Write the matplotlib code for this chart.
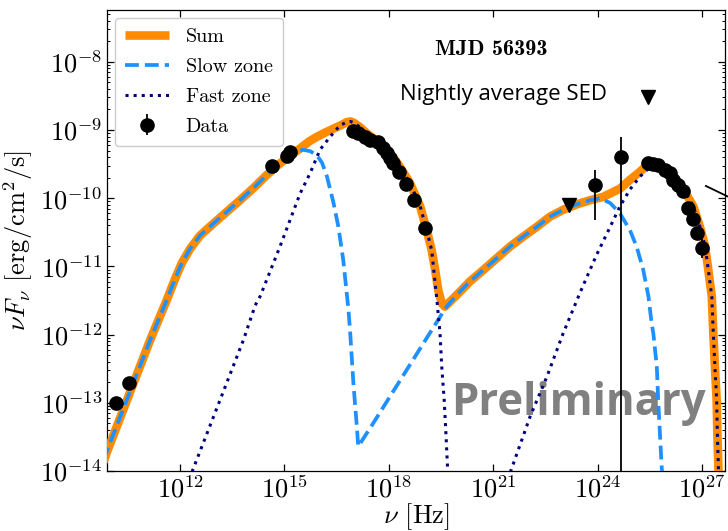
import numpy as np
import matplotlib
matplotlib.use("Agg")
import matplotlib.pyplot as plt

plt.rcParams["font.family"] = "serif"
plt.rcParams["font.serif"] = ["cmr10"]
plt.rcParams["mathtext.fontset"] = "cm"
plt.rcParams["axes.formatter.use_mathtext"] = True
plt.rcParams["axes.unicode_minus"] = False

# ---- model curves (log10 nu [Hz], log10 nuFnu [erg/cm2/s]) ----
sum_lognu = [9.80, 9.90, 11.14, 11.62, 11.85, 12.05, 12.29, 12.57, 12.96, 13.34,
             13.72, 14.11, 14.49, 14.87, 15.26, 15.45, 15.70, 15.93, 16.20, 16.41,
             16.62, 16.79, 16.90, 16.98, 17.15, 17.37, 17.60, 17.84, 18.10, 18.32,
             18.61, 18.90, 19.09, 19.23, 19.33, 19.42, 19.52, 19.61, 19.95, 20.33,
             20.72, 21.10, 21.48, 21.87, 22.25, 22.63, 23.01, 23.40, 23.78, 24.16,
             24.36, 24.64, 24.93, 25.22, 25.41, 25.52, 25.60, 25.75, 25.99, 26.27,
             26.56, 26.75, 26.94, 27.09, 27.18, 27.28, 27.32, 27.37, 27.42, 27.44,
             27.47, 27.49]
sum_logf = [-13.87, -13.72, -12.08, -11.49, -11.19, -10.95, -10.74, -10.55, -10.37, -10.20,
            -10.03, -9.85, -9.66, -9.49, -9.34, -9.27, -9.17, -9.10, -9.03, -8.98,
            -8.93, -8.885, -8.875, -8.89, -8.95, -9.05, -9.14, -9.24, -9.38, -9.54,
            -9.78, -10.12, -10.47, -10.76, -11.05, -11.35, -11.54, -11.59, -11.42, -11.22,
            -11.05, -10.88, -10.71, -10.56, -10.42, -10.27, -10.17, -10.09, -10.03, -9.98,
            -9.93, -9.86, -9.73, -9.61, -9.52, -9.49, -9.49, -9.52, -9.59, -9.73,
            -9.95, -10.12, -10.42, -10.71, -11.05, -11.44, -11.93, -12.47, -12.96, -13.45,
            -13.94, -14.40]

slow_lognu = [9.80, 9.90, 11.14, 11.62, 11.85, 12.05, 12.29, 12.57, 12.96, 13.34,
              13.72, 14.11, 14.49, 14.87, 15.26, 15.53, 15.74, 15.93, 16.08, 16.22,
              16.41, 16.55, 16.69, 16.84, 16.89, 16.98, 17.08, 17.12, 17.55, 18.03,
              18.51, 18.99, 19.47, 19.66, 19.95, 20.33, 20.72, 21.10, 21.48, 21.87,
              22.25, 22.63, 23.01, 23.40, 23.78, 24.07, 24.36, 24.64, 24.93, 25.12,
              25.31, 25.46, 25.55, 25.60, 25.70, 25.74, 25.79, 25.84, 25.87]
slow_logf = [-13.85, -13.70, -12.08, -11.49, -11.19, -10.95, -10.74, -10.55, -10.37, -10.20,
             -10.03, -9.85, -9.66, -9.49, -9.34, -9.29, -9.31, -9.37, -9.48, -9.68,
             -10.07, -10.42, -10.91, -11.64, -11.98, -12.71, -13.35, -13.64, -13.30, -12.91,
             -12.52, -12.13, -11.74, -11.59, -11.42, -11.22, -11.05, -10.88, -10.71, -10.56,
             -10.42, -10.27, -10.17, -10.09, -10.03, -10.00, -10.07, -10.22, -10.47, -10.71,
             -11.05, -11.44, -11.83, -11.98, -12.47, -12.96, -13.45, -13.94, -14.13]

fast_lognu = [12.32, 12.36, 13.82, 14.16, 14.30, 14.87, 15.45, 15.74, 16.02, 16.31,
              16.60, 16.79, 16.90, 16.98, 17.15, 17.37, 17.60, 17.84, 18.10, 18.32,
              18.61, 18.90, 19.09, 19.23, 19.38, 19.47, 19.52, 19.59, 19.64, 19.69,
              19.70]
fast_logf = [-14.13, -13.99, -12.08, -11.57, -11.44, -10.71, -9.93, -9.63, -9.29, -9.10,
             -8.93, -8.885, -8.875, -8.89, -8.95, -9.05, -9.14, -9.24, -9.38, -9.54,
             -9.78, -10.12, -10.47, -10.76, -11.49, -11.98, -12.47, -12.96, -13.45, -13.99,
             -14.13]

fast2_lognu = [21.43, 21.51, 22.06, 22.54, 23.01, 23.49, 23.97, 24.36, 24.64, 24.93,
               25.22, 25.51, 25.60, 25.75, 25.99, 26.27, 26.56, 26.75, 26.94, 27.09,
               27.18, 27.28, 27.32, 27.37, 27.42, 27.44, 27.47, 27.49]
fast2_logf = [-14.13, -13.99, -13.20, -12.62, -11.98, -11.39, -10.83, -10.42, -10.12, -9.87,
              -9.68, -9.54, -9.50, -9.52, -9.59, -9.73, -9.95, -10.12, -10.42, -10.71,
              -11.05, -11.44, -11.93, -12.47, -12.96, -13.45, -13.94, -14.40]

# ---- measurements ----
data_lognu = [10.15, 10.54, 14.64, 15.07, 15.16, 16.98, 17.12, 17.32, 17.46, 17.70,
              17.84, 17.94, 18.03, 18.13, 18.30, 18.49, 18.72, 19.05,
              25.46, 25.60, 25.74, 25.93, 26.08, 26.17, 26.32, 26.46, 26.59, 26.75,
              26.85]
data_logf = [-13.01, -12.71, -9.53, -9.38, -9.32, -9.01, -9.05, -9.10, -9.14, -9.17,
             -9.27, -9.34, -9.41, -9.49, -9.61, -9.79, -10.03, -10.43,
             -9.49, -9.50, -9.51, -9.58, -9.63, -9.73, -9.81, -9.90, -10.15, -10.31,
             -10.51]

# points with log-space error bounds (value, low, high)
err_lognu = [23.93, 24.67, 26.99]
err_logf = [-9.81, -9.40, -10.73]
err_loglo = [-10.32, -16.00, -10.88]
err_loghi = [-9.59, -9.10, -10.58]

# upper limits
ul_lognu = [23.18, 25.44]
ul_logf = [-10.10, -8.51]

ORANGE = "#FF8C00"
BLUE = "#1E90FF"
NAVY = "#000080"

fig = plt.figure(figsize=(7.28, 5.31), dpi=100)
ax = fig.add_axes([107 / 728, 1 - 471 / 531, (725 - 107) / 728, (471 - 10) / 531])

p = lambda a: 10.0 ** np.asarray(a)

ax.plot(p(sum_lognu), p(sum_logf), color=ORANGE, lw=6.2, solid_capstyle="butt",
        solid_joinstyle="round", label="Sum", zorder=3)
ax.plot(p(slow_lognu), p(slow_logf), color=BLUE, lw=2.7, ls="--",
        label="Slow zone", zorder=4)
ax.plot(p(fast_lognu), p(fast_logf), color=NAVY, lw=2.2, ls=":",
        label="Fast zone", zorder=5)
ax.plot(p(fast2_lognu), p(fast2_logf), color=NAVY, lw=2.2, ls=":", zorder=5)

ax.errorbar(p(data_lognu), p(data_logf), fmt="o", color="black", ms=9.5,
            zorder=6)
ef = p(err_logf)
ax.errorbar(p(err_lognu), ef, yerr=[ef - p(err_loglo), p(err_loghi) - ef],
            fmt="o", color="black", ms=9.5, elinewidth=1.3, capsize=0, zorder=6,
            label="Data")
ax.plot(p(ul_lognu), p(ul_logf), "v", color="black", ms=10, zorder=6)

# spectral slope segment running past the frame edge
ax.plot(p([27.11, 27.80]), p([-9.82, -9.99]), color="black", lw=1.3,
        clip_on=False, zorder=6)

ax.set_xscale("log")
ax.set_yscale("log")
ax.set_xlim(10 ** 9.9, 10 ** 27.66)
ax.set_ylim(1e-14, 10 ** -7.24)

ax.xaxis.set_major_locator(matplotlib.ticker.FixedLocator([1e12, 1e15, 1e18, 1e21, 1e24, 1e27]))
ax.xaxis.set_minor_locator(matplotlib.ticker.NullLocator())
ax.yaxis.set_major_locator(matplotlib.ticker.LogLocator(base=10, numticks=20))
ax.yaxis.set_minor_locator(matplotlib.ticker.LogLocator(base=10, subs=np.arange(2, 10), numticks=20))
ax.yaxis.set_minor_formatter(matplotlib.ticker.NullFormatter())
ax.tick_params(which="both", direction="in", top=True, right=True, labelsize=19)
ax.tick_params(which="major", length=5, width=0.9)
ax.tick_params(which="minor", length=2.5, width=0.7)
for s in ax.spines.values():
    s.set_linewidth(0.9)

ax.set_xlabel(r"$\nu$ [Hz]", fontsize=19, labelpad=-1)
ax.set_ylabel(r"$\nu F_\nu$ [erg/cm$^2$/s]", fontsize=19, labelpad=4)

leg = ax.legend(loc="upper left", fontsize=14.5, handlelength=2.2,
                borderaxespad=0.4, borderpad=0.5, labelspacing=0.58,
                fancybox=True, framealpha=1.0, edgecolor="0.8")
leg.set_zorder(10)

ax.text(0.621, 0.915, "MJD 56393", transform=ax.transAxes,
        ha="center", va="center", fontsize=16, family="cmb10")
ax.text(0.641, 0.816, "Nightly average SED", transform=ax.transAxes,
        ha="center", va="center", fontsize=16, family="Open Sans")
ax.text(0.763, 0.1215, "Preliminary", transform=ax.transAxes,
        ha="center", va="baseline", fontsize=31.5, family="Open Sans",
        fontweight="bold", color="#808080", zorder=2)

fig.savefig("out.png", dpi=100)
